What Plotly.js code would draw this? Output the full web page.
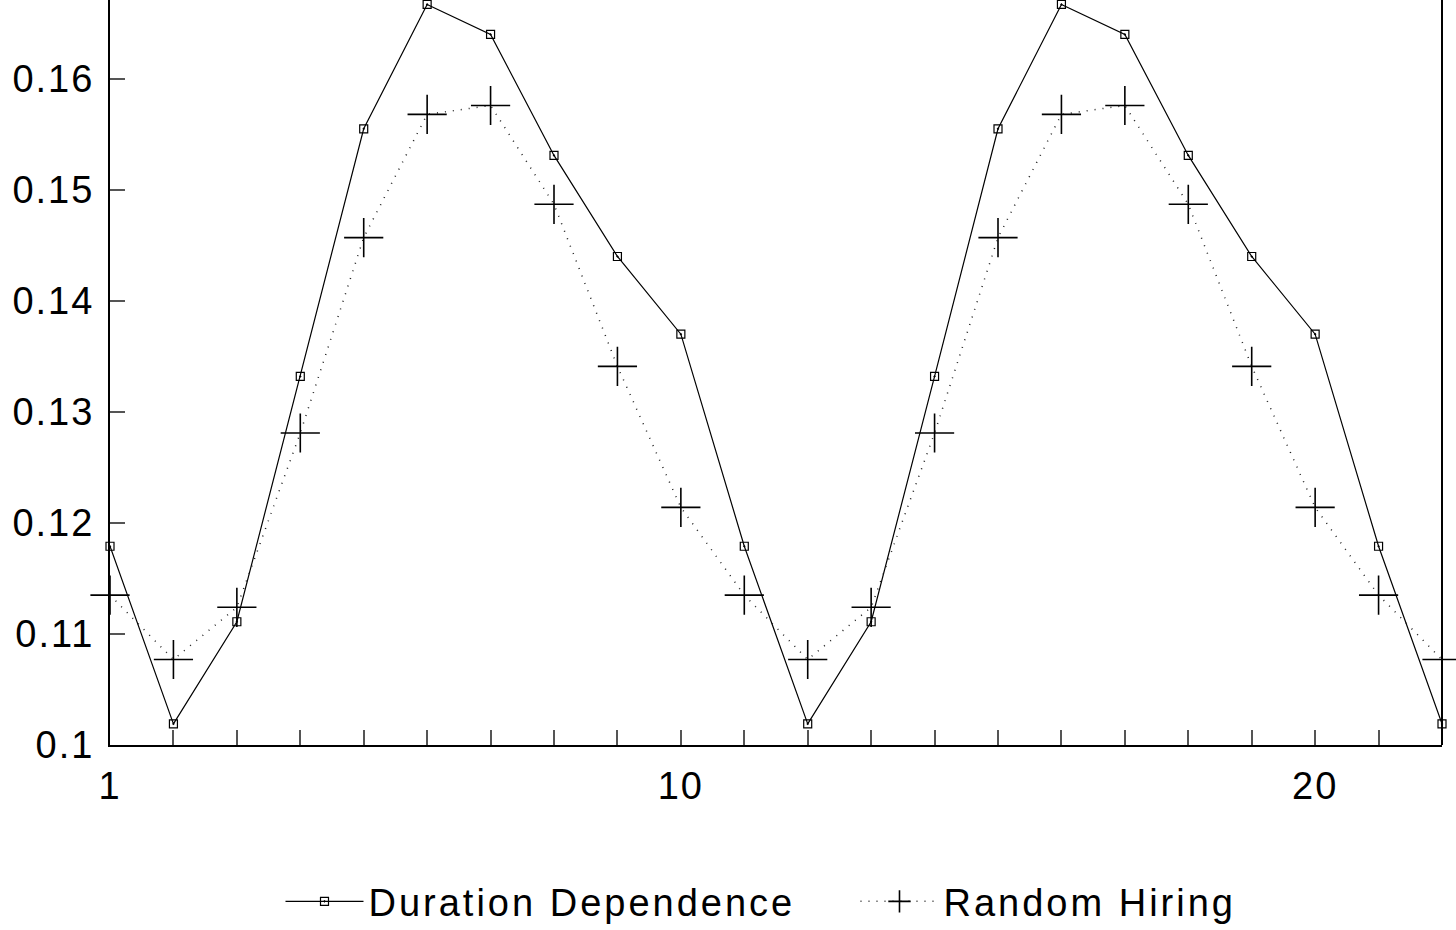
<!DOCTYPE html>
<html>
<head>
<meta charset="utf-8">
<script src="https://cdn.plot.ly/plotly-3.0.1.min.js"></script>
<style>
html,body{margin:0;padding:0;background:#fff;}
#chart{width:1456px;height:930px;}
#chart .xtick text, #chart .ytick text{letter-spacing:2px;}
#chart .legendtext{letter-spacing:3px;}
</style>
</head>
<body>
<div id="chart"></div>
<script>
const periods = [1,2,3,4,5,6,7,8,9,10,11,12,13,14,15,16,17,18,19,20,21,22];
const durationDependence = [0.1179,0.1019,0.1111,0.1332,0.1555,0.1667,0.1640,0.1531,0.1440,0.1370,
                            0.1179,0.1019,0.1111,0.1332,0.1555,0.1667,0.1640,0.1531,0.1440,0.1370,
                            0.1179,0.1019];
const randomHiring = [0.1135,0.1077,0.1124,0.1281,0.1457,0.1568,0.1576,0.1487,0.1341,0.1214,
                      0.1135,0.1077,0.1124,0.1281,0.1457,0.1568,0.1576,0.1487,0.1341,0.1214,
                      0.1135,0.1077];
const xTickVals = periods;
const xTickText = ['1','','','','','','','','','10','','','','','','','','','','20','',''];
const yTickVals = [0.1,0.11,0.12,0.13,0.14,0.15,0.16];
const yTickText = ['0.1','0.11','0.12','0.13','0.14','0.15','0.16'];
const seriesNames = ['Duration Dependence','Random Hiring'];

const font = {family:'Liberation Sans, Arial, sans-serif', size:38, color:'#000'};

const traces = [
  {x:periods, y:durationDependence, name:seriesNames[0], type:'scatter', mode:'lines+markers',
   line:{color:'#000', width:1.2},
   marker:{symbol:'square-open-dot', size:8, color:'#000', line:{width:1.2, color:'#000'}},
   cliponaxis:false},
  {x:periods, y:randomHiring, name:seriesNames[1], type:'scatter', mode:'lines+markers',
   line:{color:'#222', width:1.5, dash:'1px,7px'},
   marker:{symbol:'cross-thin-open', size:28, color:'#000', line:{width:1.6, color:'#000'}},
   cliponaxis:false}
];

const layout = {
  width:1456, height:930,
  paper_bgcolor:'#fff', plot_bgcolor:'#fff',
  margin:{l:110, r:14, t:0, b:185, autoexpand:false},
  font:font,
  showlegend:true,
  legend:{orientation:'h', x:0.128, xanchor:'left', y:-0.168, yanchor:'top',
          font:{family:font.family, size:38, color:'#000'},
          itemwidth:78, entrywidth:482, entrywidthmode:'pixels', tracegroupgap:0},
  xaxis:{range:[1,22], tickmode:'array', tickvals:xTickVals, ticktext:xTickText,
         ticks:'inside', ticklen:15, tickwidth:2, tickcolor:'#555', ticklabelstandoff:6,
         showline:true, linecolor:'#000', linewidth:2, showgrid:false, zeroline:false,
         automargin:false,
         tickfont:{family:font.family, size:38, color:'#000'}},
  yaxis:{range:[0.1,0.1671], tickmode:'array', tickvals:yTickVals, ticktext:yTickText,
         ticks:'inside', ticklen:15, tickwidth:2, tickcolor:'#555', ticklabelstandoff:6,
         showline:true, linecolor:'#000', linewidth:2, showgrid:false, zeroline:false,
         automargin:false,
         tickfont:{family:font.family, size:38, color:'#000'}},
  shapes:[{type:'line', xref:'paper', yref:'paper', x0:1, x1:1, y0:0, y1:1,
           line:{color:'#000', width:2}}]
};

Plotly.newPlot('chart', traces, layout, {displayModeBar:false, staticPlot:true});
</script>
</body>
</html>
